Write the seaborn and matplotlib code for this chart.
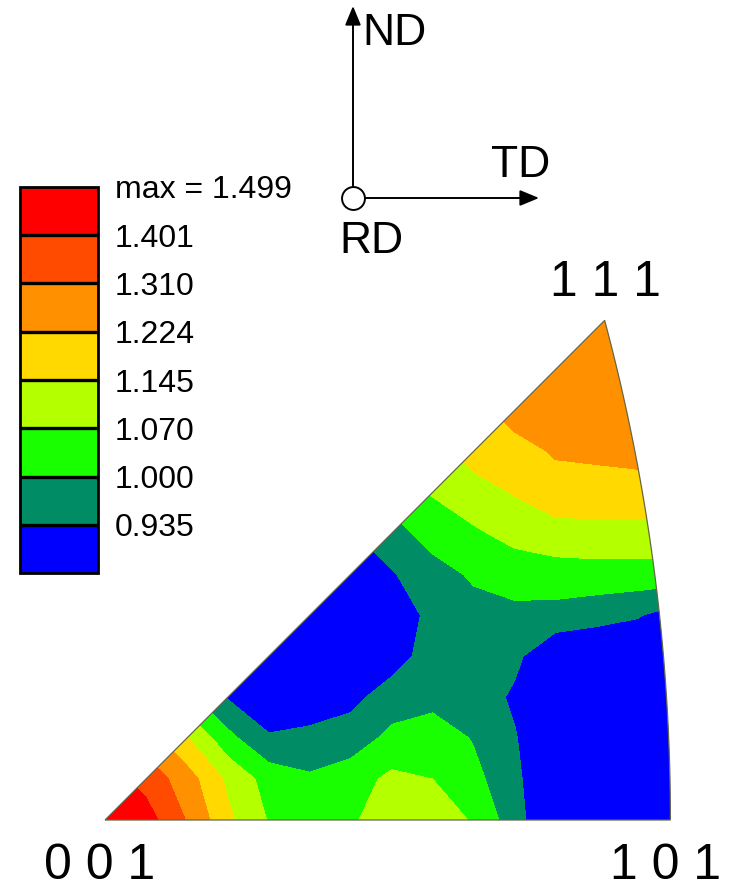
import numpy as np
import matplotlib
matplotlib.use("Agg")
import matplotlib.pyplot as plt
from matplotlib.path import Path
from matplotlib.patches import PathPatch
import seaborn as sns

# grid of the inverse pole figure in stereographic coordinates
# (001 at the origin, 101 on the x axis, 111 on the diagonal)
x_stereo = [0.00, 0.03, 0.06, 0.09, 0.12, 0.15, 0.18, 0.21, 0.24, 0.27, 0.30, 0.33, 0.36, 0.39, 0.42]
y_stereo = [0.00, 0.03, 0.06, 0.09, 0.12, 0.15, 0.18, 0.21, 0.24, 0.27, 0.30, 0.33, 0.36, 0.39]

nan = np.nan
# intensity, one row per y_stereo value
density = [
    [1.495, 1.44, 1.305, 1.16, 1.065, 1.035, 1.06, 1.11, 1.10, 1.065, 0.96, 0.87, 0.88, 0.88, 0.88],
    [1.44, 1.37, 1.26, 1.13, 1.04, 1.01, 1.04, 1.085, 1.07, 1.02, 0.95, 0.87, 0.88, 0.88, 0.88],
    [nan, 1.26, 1.15, 1.02, 0.94, 0.95, 0.96, 1.02, 1.04, 0.995, 0.94, 0.87, 0.87, 0.88, 0.88],
    [nan, nan, 1.02, 0.93, 0.90, 0.90, 0.92, 0.96, 0.975, 0.97, 0.925, 0.87, 0.87, 0.88, 0.88],
    [nan, nan, nan, 0.90, 0.89, 0.88, 0.88, 0.91, 0.96, 0.97, 0.95, 0.88, 0.87, 0.88, 0.88],
    [nan, nan, nan, nan, 0.88, 0.88, 0.88, 0.90, 0.95, 0.975, 0.98, 0.975, 0.96, 0.94, 0.90],
    [nan, nan, nan, nan, nan, 0.88, 0.89, 0.93, 0.97, 1.01, 1.035, 1.04, 1.04, 1.04, 1.04],
    [nan, nan, nan, nan, nan, nan, 0.93, 0.97, 1.03, 1.06, 1.09, 1.11, 1.12, 1.12, 1.12],
    [nan, nan, nan, nan, nan, nan, nan, 1.03, 1.075, 1.11, 1.15, 1.20, 1.19, 1.19, 1.19],
    [nan, nan, nan, nan, nan, nan, nan, nan, 1.11, 1.18, 1.20, 1.23, 1.24, 1.25, 1.25],
    [nan, nan, nan, nan, nan, nan, nan, nan, nan, 1.20, 1.25, 1.27, 1.28, 1.28, 1.28],
    [nan, nan, nan, nan, nan, nan, nan, nan, nan, nan, 1.27, 1.28, 1.28, 1.28, 1.28],
    [nan, nan, nan, nan, nan, nan, nan, nan, nan, nan, nan, 1.28, 1.28, 1.28, 1.28],
    [nan, nan, nan, nan, nan, nan, nan, nan, nan, nan, nan, nan, 1.28, 1.28, 1.28],
]

levels = [0.80, 0.935, 1.000, 1.070, 1.145, 1.224, 1.310, 1.401, 1.499]
level_labels = ["0.935", "1.000", "1.070", "1.145", "1.224", "1.310", "1.401", "max = 1.499"]
band_colors = ["#0000FF", "#008C64", "#19FF00", "#B4FF00", "#FFD900", "#FF9100", "#FF4B00", "#FF0000"]
pole_labels = ["0 0 1", "1 0 1", "1 1 1"]
axis_labels = ["ND", "TD", "RD"]

sns.set_theme(style="white")
plt.rcParams["font.family"] = ["Liberation Sans", "DejaVu Sans"]
plt.rcParams["text.color"] = "black"

W, H = 733, 888
S = 1365.0          # pixels per stereographic unit
ox, oy = 105, 820   # pixel position of 001


def fxy(px, py):
    return px / W, 1 - py / H


def dxy(px, py):
    return (px - ox) / S, (oy - py) / S


fig = plt.figure(figsize=(W / 100, H / 100), dpi=100)
ax = fig.add_axes([0, 0, 1, 1])
ax.set_xlim(-ox / S, (W - ox) / S)
ax.set_ylim((oy - H) / S, oy / S)
ax.axis("off")

X, Y = np.meshgrid(x_stereo, y_stereo)
Z = np.ma.masked_invalid(np.array(density))
cs = ax.contourf(X, Y, Z, levels=levels, colors=sns.color_palette(band_colors))

# standard triangle: 001 - 101 straight, 101 - 111 great circle arc, 111 - 001 straight
y_arc = np.linspace(0, 1 / (1 + np.sqrt(3)), 80)
x_arc = -1 + np.sqrt(2 - y_arc ** 2)
verts = np.vstack([[0, 0], np.column_stack([x_arc, y_arc]), [0, 0]])
tri = PathPatch(Path(verts), transform=ax.transData, facecolor="none",
                edgecolor="#66664a", lw=0.9, zorder=3)
ax.add_patch(tri)
cs.set_clip_path(tri)

# legend boxes
cax = fig.add_axes([20 / W, 1 - 573 / H, 78 / W, 386 / H])
cb = fig.colorbar(cs, cax=cax, drawedges=True, ticks=levels[1:])
cb.set_ticklabels(level_labels)
cax.tick_params(length=0, pad=12, labelsize=23, labelcolor="black")
cb.outline.set_linewidth(2.0)
cb.outline.set_edgecolor("black")
cb.dividers.set_linewidth(2.4)
cb.dividers.set_color("black")

# pole labels
fig.text(*fxy(100, 879), pole_labels[0], ha="center", va="baseline", fontsize=36, color="black")
fig.text(*fxy(666, 879), pole_labels[1], ha="center", va="baseline", fontsize=36, color="black")
fig.text(*fxy(605, 296), pole_labels[2], ha="center", va="baseline", fontsize=36, color="black")

# sample axes sketch
arrow = dict(arrowstyle="-|>,head_length=0.58,head_width=0.24", color="black",
             lw=1.4, shrinkA=0, shrinkB=0, mutation_scale=20)
ax.annotate("", xy=fxy(353, 6), xytext=fxy(353, 186), xycoords="figure fraction",
            textcoords="figure fraction", arrowprops=arrow)
ax.annotate("", xy=fxy(539, 198), xytext=fxy(365, 198), xycoords="figure fraction",
            textcoords="figure fraction", arrowprops=arrow)
cx, cy = dxy(353, 198)
ax.plot([cx], [cy], "o", ms=16.5, mfc="white", mec="black", mew=1.4, zorder=5)
fig.text(*fxy(362, 45), axis_labels[0], ha="left", va="baseline", fontsize=32, color="black")
fig.text(*fxy(491, 177), axis_labels[1], ha="left", va="baseline", fontsize=32, color="black")
fig.text(*fxy(339, 253), axis_labels[2], ha="left", va="baseline", fontsize=32, color="black")

fig.savefig("out.png", dpi=100)
